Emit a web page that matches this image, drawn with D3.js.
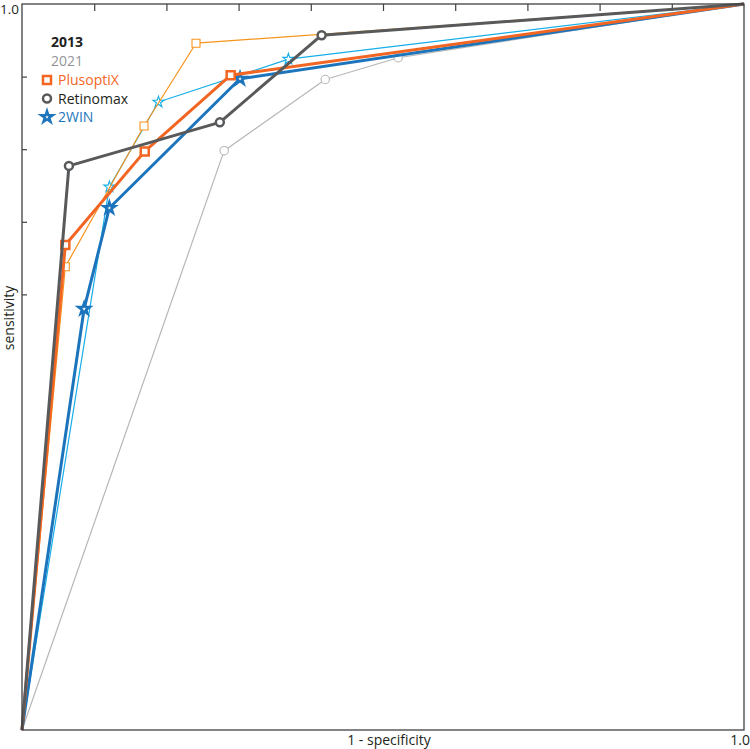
<!DOCTYPE html>
<html>
<head>
<meta charset="utf-8">
<script src="https://cdn.jsdelivr.net/npm/d3@7"></script>
<style>
  body { margin: 0; background: #fff; }
  text { font-family: "Open Sans", "Noto Sans", sans-serif; }
</style>
</head>
<body>
<svg></svg>
<script>
// 1 - specificity (x) and sensitivity (y) for each device, per year
let plusoptix2013X = [0, 0.060, 0.170, 0.289, 1]
let plusoptix2013Y = [0, 0.668, 0.797, 0.902, 1]
let plusoptix2021X = [0, 0.060, 0.169, 0.241, 1]
let plusoptix2021Y = [0, 0.638, 0.832, 0.946, 1]

let retinomax2013X = [0, 0.065, 0.274, 0.415, 1]
let retinomax2013Y = [0, 0.777, 0.837, 0.957, 1]
let retinomax2021X = [0, 0.280, 0.420, 0.521, 1]
let retinomax2021Y = [0, 0.798, 0.896, 0.926, 1]

let win2013X = [0, 0.086, 0.121, 0.302, 1]
let win2013Y = [0, 0.580, 0.719, 0.897, 1]
let win2021X = [0, 0.121, 0.189, 0.369, 1]
let win2021Y = [0, 0.748, 0.865, 0.924, 1]

let xTicks = [0.1, 0.2, 0.3, 0.4, 0.5, 0.6, 0.7, 0.8, 0.9]
let yTicks = [0.6, 0.7, 0.8, 0.9]
let legendNames = ['PlusoptiX', 'Retinomax', '2WIN']

let width = 750
let height = 749
let padLeft = 22, padRight = 744, padTop = 4, padBottom = 730

let svg = d3.select('svg').attr('width', width).attr('height', height)

let xScale = d3.scaleLinear().domain([0, 1]).range([padLeft, padRight])
let yScale = d3.scaleLinear().domain([0, 1]).range([padBottom, padTop])

// ticks, inward
svg.append('g')
  .attr('transform', 'translate(0,' + padTop + ')')
  .call(d3.axisBottom(xScale).tickValues(xTicks).tickSize(7).tickFormat(''))
  .call(g => g.select('.domain').remove())
  .selectAll('line').attr('stroke', '#414042').attr('stroke-width', 1.2)

svg.append('g')
  .attr('transform', 'translate(' + padLeft + ',0)')
  .call(d3.axisRight(yScale).tickValues(yTicks).tickSize(5).tickFormat(''))
  .call(g => g.select('.domain').remove())
  .selectAll('line').attr('stroke', '#414042').attr('stroke-width', 1.2)

let series = [
  {x: retinomax2021X, y: retinomax2021Y, color: '#b7b7b7', w: 1.2, sym: d3.symbolCircle, size: 55, thick: false},
  {x: win2021X, y: win2021Y, color: '#16aee8', w: 1.2, sym: d3.symbolStar, size: 38, thick: false},
  {x: plusoptix2021X, y: plusoptix2021Y, color: '#f7941d', w: 1.2, sym: d3.symbolSquare, size: 64, thick: false},
  {x: win2013X, y: win2013Y, color: '#1c75bc', w: 3, sym: d3.symbolStar, size: 40, thick: true},
  {x: plusoptix2013X, y: plusoptix2013Y, color: '#f26522', w: 3, sym: d3.symbolSquare, size: 64, thick: true},
  {x: retinomax2013X, y: retinomax2013Y, color: '#58595b', w: 3, sym: d3.symbolCircle, size: 50, thick: true}
]

let line = d3.line().x(d => xScale(d[0])).y(d => yScale(d[1]))

series.forEach(s => {
  let pts = s.x.map((v, i) => [v, s.y[i]])
  svg.append('path')
    .attr('d', line(pts))
    .attr('fill', 'none')
    .attr('stroke', s.color)
    .attr('stroke-width', s.w)
    .attr('stroke-linejoin', 'round')
  svg.selectAll(null)
    .data(pts.slice(1, pts.length - 1))
    .enter()
    .append('path')
    .attr('d', d3.symbol().type(s.sym).size(s.size))
    .attr('transform', d => 'translate(' + xScale(d[0]) + ',' + yScale(d[1]) + ')')
    .attr('fill', '#fff')
    .attr('stroke', s.color)
    .attr('stroke-width', s.thick ? 2.5 : 1.1)
})

// frame
svg.append('rect')
  .attr('x', padLeft).attr('y', padTop)
  .attr('width', padRight - padLeft).attr('height', padBottom - padTop)
  .attr('fill', 'none').attr('stroke', '#414042').attr('stroke-width', 1.3)

// labels
svg.append('text').attr('x', 0).attr('y', 14).attr('font-size', 13.5).attr('fill', '#231f20').text('1.0')
svg.append('text').attr('x', 750).attr('y', 745).attr('text-anchor', 'end').attr('font-size', 14).attr('fill', '#231f20').text('1.0')
svg.append('text').attr('x', 389).attr('y', 745).attr('text-anchor', 'middle').attr('font-size', 14).attr('fill', '#231f20').text('1 - specificity')
svg.append('text')
  .attr('transform', 'translate(14,318) rotate(-90)')
  .attr('text-anchor', 'middle').attr('font-size', 14).attr('fill', '#231f20').text('sensitivity')

// legend
let legend = svg.append('g')
legend.append('text').attr('x', 51).attr('y', 47).attr('font-size', 14).attr('font-weight', 'bold').attr('fill', '#231f20').text('2013')
legend.append('text').attr('x', 51).attr('y', 66).attr('font-size', 14).attr('fill', '#939598').text('2021')

let legendSyms = [d3.symbolSquare, d3.symbolCircle, d3.symbolStar]
let legendColors = ['#f26522', '#58595b', '#1c75bc']
let legendTextColors = ['#f26522', '#231f20', '#1c75bc']
let legendSizes = [64, 50, 40]

legendNames.forEach((name, i) => {
  let y = 80 + i * 18.5
  legend.append('path')
    .attr('d', d3.symbol().type(legendSyms[i]).size(legendSizes[i]))
    .attr('transform', 'translate(47,' + y + ')')
    .attr('fill', '#fff').attr('stroke', legendColors[i]).attr('stroke-width', 2.5)
  legend.append('text')
    .attr('x', 58).attr('y', y + 5)
    .attr('font-size', 14).attr('fill', legendTextColors[i]).text(name)
})
</script>
</body>
</html>
